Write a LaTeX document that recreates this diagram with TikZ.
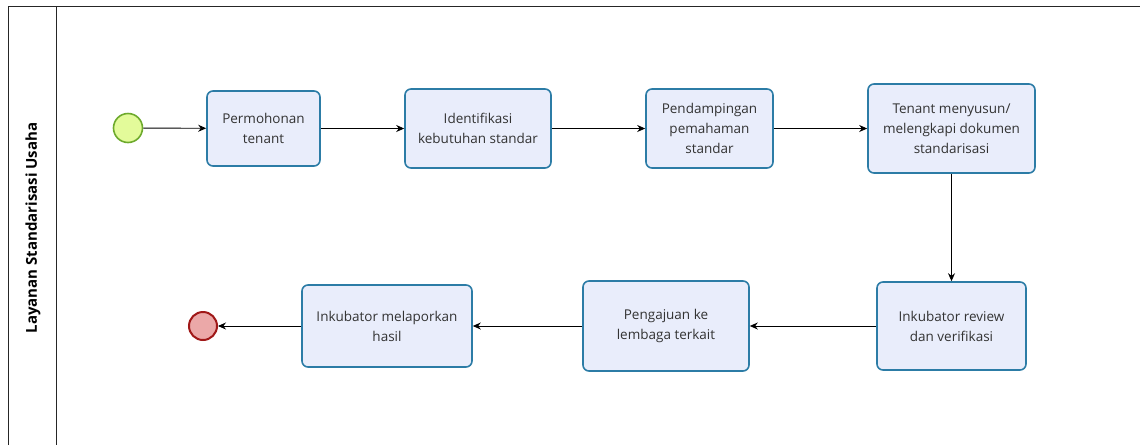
\documentclass[tikz,border=0pt]{standalone}
\usepackage{fontspec}
\setmainfont{Open Sans}
\usetikzlibrary{arrows.meta}
\definecolor{boxfill}{HTML}{E9EDFB}
\definecolor{boxdraw}{HTML}{2C7CA6}
\definecolor{txt}{HTML}{333333}
\definecolor{startfill}{HTML}{E3FB9A}
\definecolor{startdraw}{HTML}{6DAA2C}
\definecolor{endfill}{HTML}{EBA8A8}
\definecolor{enddraw}{HTML}{A01818}
\tikzset{
  task/.style={draw=boxdraw, fill=boxfill, line width=1.6pt, rounded corners=6pt,
    text=txt, align=center, font=\fontsize{13.5}{20}\selectfont, inner sep=0pt},
  flow/.style={-{Stealth[length=8pt,width=7pt]}, line width=0.9pt, black},
}
\begin{document}
\begin{tikzpicture}[x=1pt,y=-1pt]
\useasboundingbox (0,0) rectangle (1140,445);
\draw[line width=0.9pt, black!85] (8,445) -- (8,6) -- (1140,6);
\draw[line width=0.9pt, black!85] (56,6) -- (56,445);
\node[rotate=90, font=\fontsize{15}{18}\selectfont\bfseries, text=black] (lane) at (33,228) {Layanan Standarisasi Usaha};

\node[circle, draw=startdraw, fill=startfill, line width=1.6pt, minimum size=29pt, inner sep=0pt] (s) at (128,128) {};
\node[circle, draw=enddraw, fill=endfill, line width=2pt, minimum size=28pt, inner sep=0pt] (e) at (203,326) {};

\node[task, minimum width=113pt, minimum height=75pt] (t1) at (263.5,128.5) {Permohonan\\tenant};
\node[task, minimum width=146pt, minimum height=79pt] (t2) at (478,128.5) {Identifikasi\\kebutuhan standar};
\node[task, minimum width=127pt, minimum height=79pt] (t3) at (709.5,128.5) {Pendampingan\\pemahaman\\standar};
\node[task, minimum width=167pt, minimum height=89pt] (t4) at (951.5,128.5) {Tenant menyusun/\\melengkapi dokumen\\standarisasi};
\node[task, minimum width=149pt, minimum height=88pt] (t5) at (951.5,326) {Inkubator review\\dan verifikasi};
\node[task, minimum width=166pt, minimum height=90pt] (t6) at (666,326) {Pengajuan ke\\lembaga terkait};
\node[task, minimum width=170pt, minimum height=82pt] (t7) at (387,326) {Inkubator melaporkan\\hasil};

\draw[flow] (s) -- (t1);
\draw[flow] (t1) -- (t2);
\draw[flow] (t2) -- (t3);
\draw[flow] (t3) -- (t4);
\draw[flow] (t4) -- (t5);
\draw[flow] (t5) -- (t6);
\draw[flow] (t6) -- (t7);
\draw[flow] (t7) -- (e);
\end{tikzpicture}
\end{document}
